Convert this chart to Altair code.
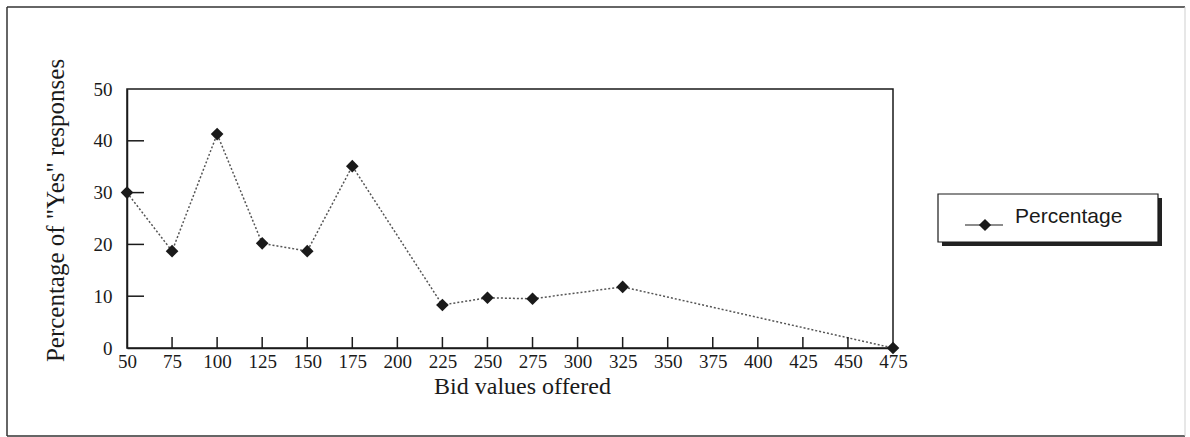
import altair as alt
import pandas as pd

# Bid amounts offered and share of respondents answering "Yes"
bids = [50, 75, 100, 125, 150, 175, 225, 250, 275, 325, 475]
pct_yes = [30.0, 18.7, 41.3, 20.2, 18.7, 35.1, 8.3, 9.7, 9.5, 11.8, 0.0]

x_ticks = [50, 75, 100, 125, 150, 175, 200, 225, 250, 275, 300, 325, 350, 375, 400, 425, 450, 475]
y_ticks = [0, 10, 20, 30, 40, 50]
inner_x_ticks = x_ticks[1:-1]
inner_y_ticks = y_ticks[1:-1]

series_name = "Percentage"

W, H = 766, 259
SERIF = "Liberation Serif"
SANS = "Liberation Sans"
INK = "#1a1a1a"

df = pd.DataFrame({"bid": bids, "pct": pct_yes})
xt = pd.DataFrame({"v": inner_x_ticks})
yt = pd.DataFrame({"v": inner_y_ticks})
one = pd.DataFrame({"label": [series_name]})

x_scale = alt.Scale(domain=[x_ticks[0], x_ticks[-1]], nice=False, zero=False)
y_scale = alt.Scale(domain=[y_ticks[0], y_ticks[-1]], nice=False)

x_enc = alt.X(
    "bid:Q",
    scale=x_scale,
    axis=alt.Axis(
        values=x_ticks,
        title="Bid values offered",
        titleFont=SERIF,
        titleFontSize=24,
        titleFontWeight="normal",
        titleColor=INK,
        titleX=395,
        titleY=45,
        titleBaseline="alphabetic",
        labelFont=SERIF,
        labelFontSize=19,
        labelColor=INK,
        labelPadding=4,
        labelFlush=False,
        labelOverlap=False,
        ticks=False,
        grid=False,
        domainColor=INK,
        domainWidth=1.5,
    ),
)
y_enc = alt.Y(
    "pct:Q",
    scale=y_scale,
    axis=alt.Axis(
        values=y_ticks,
        title='Percentage of "Yes" responses',
        titleFont=SERIF,
        titleFontSize=25,
        titleFontWeight="normal",
        titleColor=INK,
        titleAngle=270,
        titleBaseline="middle",
        titleAlign="center",
        titleX=-72,
        titleY=121,
        labelFont=SERIF,
        labelFontSize=19,
        labelColor=INK,
        labelPadding=15,
        labelFlush=False,
        ticks=False,
        grid=False,
        domainColor=INK,
        domainWidth=1.5,
    ),
)

base = alt.Chart(df)

line = base.mark_line(color="#555555", strokeDash=[2, 2], strokeWidth=1.5).encode(x=x_enc, y=y_enc)
points = base.mark_point(shape="diamond", filled=True, color=INK, size=160, opacity=1).encode(
    x="bid:Q", y="pct:Q"
)

# inward-pointing tick marks on both axes
x_tick_rules = alt.Chart(xt).mark_rule(color=INK, strokeWidth=1.5).encode(
    x=alt.X("v:Q", scale=x_scale), y=alt.value(H), y2=alt.value(H - 11)
)
y_tick_rules = alt.Chart(yt).mark_rule(color=INK, strokeWidth=1.5).encode(
    y=alt.Y("v:Q", scale=y_scale), x=alt.value(0), x2=alt.value(17)
)

# outer frame around the whole figure
frame_dark = [
    alt.Chart(one).mark_rule(color="#333333", strokeWidth=1.5).encode(
        x=alt.value(-120), x2=alt.value(1058), y=alt.value(-82)
    ),
    alt.Chart(one).mark_rule(color="#333333", strokeWidth=1.5).encode(
        x=alt.value(-120), y=alt.value(-82), y2=alt.value(347)
    ),
    alt.Chart(one).mark_rule(color="#333333", strokeWidth=1.5).encode(
        x=alt.value(-120), x2=alt.value(1058), y=alt.value(347)
    ),
    alt.Chart(one).mark_rule(color="#cfcfcf", strokeWidth=1).encode(
        x=alt.value(1058), y=alt.value(-82), y2=alt.value(347)
    ),
]

# legend box with drop shadow
LX, LY, LW, LH = 811, 105, 220, 48
legend_shadow = alt.Chart(one).mark_rect(fill="#222222").encode(
    x=alt.value(LX + 4), x2=alt.value(LX + LW + 4), y=alt.value(LY + 4), y2=alt.value(LY + LH + 4)
)
legend_box = alt.Chart(one).mark_rect(fill="white", stroke=INK, strokeWidth=1.2).encode(
    x=alt.value(LX), x2=alt.value(LX + LW), y=alt.value(LY), y2=alt.value(LY + LH)
)
legend_line = alt.Chart(one).mark_rule(color=INK, strokeWidth=1.2).encode(
    x=alt.value(LX + 27), x2=alt.value(LX + 65), y=alt.value(LY + 31)
)
legend_pt = alt.Chart(one).mark_point(shape="diamond", filled=True, color=INK, size=150, opacity=1).encode(
    x=alt.value(LX + 47), y=alt.value(LY + 31)
)
legend_txt = alt.Chart(one).mark_text(
    font=SANS, fontSize=21, color=INK, align="left", baseline="alphabetic"
).encode(x=alt.value(LX + 77), y=alt.value(LY + 29), text="label:N")

chart = (
    alt.layer(
        *frame_dark,
        line,
        points,
        x_tick_rules,
        y_tick_rules,
        legend_shadow,
        legend_box,
        legend_line,
        legend_pt,
        legend_txt,
    )
    .properties(
        width=W,
        height=H,
        autosize=alt.AutoSizeParams(type="none"),
        padding={"left": 127, "top": 89, "right": 297, "bottom": 89},
        background="white",
    )
    .configure_view(stroke=INK, strokeWidth=1.5)
)

chart.save("out.html", embed_options={"renderer": "svg", "actions": False})
